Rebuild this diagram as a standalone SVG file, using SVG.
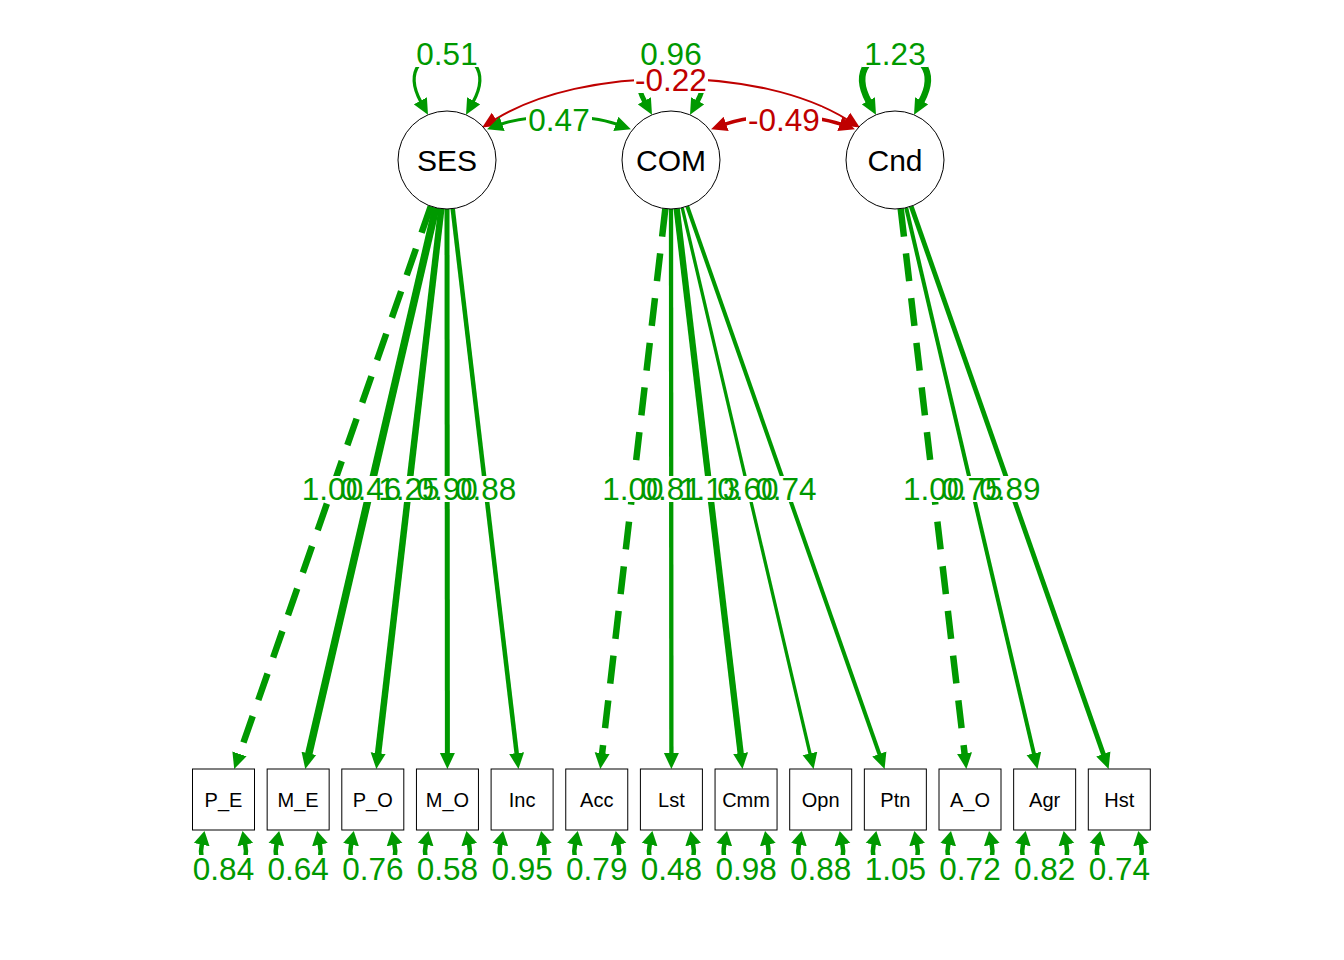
<svg xmlns="http://www.w3.org/2000/svg" width="1344" height="960" viewBox="0 0 1344 960">
<style>
.g{fill:none;stroke:#009900}
.r{fill:none;stroke:#BF0000}
.d{stroke-dasharray:28 17}
.bg{fill:#ffffff}
.lt{font-family:"Liberation Sans",Arial,sans-serif;font-size:31.5px;text-anchor:middle}
.lg{fill:#009900}
.lr{fill:#BF0000}
.lat circle{fill:#ffffff;stroke:#000000;stroke-width:1}
.man rect{fill:#ffffff;stroke:#000000;stroke-width:1}
.nt{font-family:"Liberation Sans",Arial,sans-serif;font-size:30px;text-anchor:middle;fill:#000000}
.bt{font-family:"Liberation Sans",Arial,sans-serif;font-size:20px;text-anchor:middle;fill:#000000}
.res{stroke-width:4.5;marker-start:url(#ms);marker-end:url(#ms)}
</style>
<defs>
<marker id="mg" viewBox="-1 -8 16 16" refX="0" refY="0" markerWidth="16" markerHeight="16" markerUnits="userSpaceOnUse" orient="auto-start-reverse"><path d="M-1,-7.5L15,0L-1,7.5z" fill="#009900"/></marker>
<marker id="mr" viewBox="-1 -8 16 16" refX="0" refY="0" markerWidth="16" markerHeight="16" markerUnits="userSpaceOnUse" orient="auto-start-reverse"><path d="M-1,-7.5L15,0L-1,7.5z" fill="#BF0000"/></marker>
<marker id="ms" viewBox="-1 -9 14 18" refX="0" refY="0" markerWidth="14" markerHeight="18" markerUnits="userSpaceOnUse" orient="auto-start-reverse"><path d="M-1,-8L13,0L-1,8z" fill="#009900"/></marker>
</defs>
<rect x="0" y="0" width="1344" height="960" fill="#ffffff"/>
<g id="connectors">
<path class="g d" stroke-width="6.5" marker-end="url(#mg)" d="M430.8,206.3L239.15,754.84"/>
<path class="g" stroke-width="7.5" marker-end="url(#mg)" d="M435.9,207.7L308.65,754.39"/>
<path class="g" stroke-width="6.5" marker-end="url(#mg)" d="M441.3,208.7L378.03,754.1"/>
<path class="g" stroke-width="5" marker-end="url(#mg)" d="M447,209L447.4,754"/>
<path class="g" stroke-width="4.5" marker-end="url(#mg)" d="M452.7,208.7L516.75,754.1"/>
<path class="g d" stroke-width="6.5" marker-end="url(#mg)" d="M665.35,208.7L602.03,754.1"/>
<path class="g" stroke-width="4.3" marker-end="url(#mg)" d="M671,209L671.4,754"/>
<path class="g" stroke-width="6.3" marker-end="url(#mg)" d="M676.7,208.7L740.75,754.1"/>
<path class="g" stroke-width="3.3" marker-end="url(#mg)" d="M682.2,207.7L810.18,754.39"/>
<path class="g" stroke-width="4" marker-end="url(#mg)" d="M687.2,206.2L879.64,754.85"/>
<path class="g d" stroke-width="6.5" marker-end="url(#mg)" d="M900.7,208.7L964.65,754.1"/>
<path class="g" stroke-width="4" marker-end="url(#mg)" d="M906.2,207.7L1034.08,754.39"/>
<path class="g" stroke-width="4.8" marker-end="url(#mg)" d="M911.2,206.2L1103.64,754.85"/>
<path class="g" stroke-width="3.2" marker-start="url(#mg)" marker-end="url(#mg)" d="M420.8,101.7C385,36 509,36 473.2,101.7"/>
<path class="g" stroke-width="5" marker-start="url(#mg)" marker-end="url(#mg)" d="M644.8,101.7C609,36 733,36 697.2,101.7"/>
<path class="g" stroke-width="6.5" marker-start="url(#mg)" marker-end="url(#mg)" d="M868.8,101.7C833,36 957,36 921.2,101.7"/>
<path class="r" stroke-width="2" marker-start="url(#mr)" marker-end="url(#mr)" d="M494.9,119.6C582.5,65 759.5,65 847.1,119.6"/>
<path class="g" stroke-width="3" marker-start="url(#mg)" marker-end="url(#mg)" d="M501.2,124.2C530,113.8 588,113.8 616.8,124.2"/>
<path class="r" stroke-width="3.5" marker-start="url(#mr)" marker-end="url(#mr)" d="M725.2,124.2C754,113.8 812,113.8 840.8,124.2"/>
<path class="g res" d="M201.9,843.7C193.5,885 253.5,885 245.1,843.7"/>
<path class="g res" d="M276.55,843.7C268.15,885 328.15,885 319.75,843.7"/>
<path class="g res" d="M351.2,843.7C342.8,885 402.8,885 394.4,843.7"/>
<path class="g res" d="M425.85,843.7C417.45,885 477.45,885 469.05,843.7"/>
<path class="g res" d="M500.5,843.7C492.1,885 552.1,885 543.7,843.7"/>
<path class="g res" d="M575.15,843.7C566.75,885 626.75,885 618.35,843.7"/>
<path class="g res" d="M649.8,843.7C641.4,885 701.4,885 693,843.7"/>
<path class="g res" d="M724.45,843.7C716.05,885 776.05,885 767.65,843.7"/>
<path class="g res" d="M799.1,843.7C790.7,885 850.7,885 842.3,843.7"/>
<path class="g res" d="M873.75,843.7C865.35,885 925.35,885 916.95,843.7"/>
<path class="g res" d="M948.4,843.7C940,885 1000,885 991.6,843.7"/>
<path class="g res" d="M1023.05,843.7C1014.65,885 1074.65,885 1066.25,843.7"/>
<path class="g res" d="M1097.7,843.7C1089.3,885 1149.3,885 1140.9,843.7"/>
</g>
<g id="node-SES" class="lat"><circle cx="447" cy="160" r="49"/><text class="nt" x="447" y="170.7">SES</text></g>
<g id="node-COM" class="lat"><circle cx="671" cy="160" r="49"/><text class="nt" x="671" y="170.7">COM</text></g>
<g id="node-Cnd" class="lat"><circle cx="895" cy="160" r="49"/><text class="nt" x="895" y="170.7">Cnd</text></g>
<g id="node-P_E" class="man"><rect x="192.5" y="769" width="62" height="61"/><text class="bt" x="223.5" y="806.7">P_E</text></g>
<g id="node-M_E" class="man"><rect x="267.15" y="769" width="62" height="61"/><text class="bt" x="298.15" y="806.7">M_E</text></g>
<g id="node-P_O" class="man"><rect x="341.8" y="769" width="62" height="61"/><text class="bt" x="372.8" y="806.7">P_O</text></g>
<g id="node-M_O" class="man"><rect x="416.45" y="769" width="62" height="61"/><text class="bt" x="447.45" y="806.7">M_O</text></g>
<g id="node-Inc" class="man"><rect x="491.1" y="769" width="62" height="61"/><text class="bt" x="522.1" y="806.7">Inc</text></g>
<g id="node-Acc" class="man"><rect x="565.75" y="769" width="62" height="61"/><text class="bt" x="596.75" y="806.7">Acc</text></g>
<g id="node-Lst" class="man"><rect x="640.4" y="769" width="62" height="61"/><text class="bt" x="671.4" y="806.7">Lst</text></g>
<g id="node-Cmm" class="man"><rect x="715.05" y="769" width="62" height="61"/><text class="bt" x="746.05" y="806.7">Cmm</text></g>
<g id="node-Opn" class="man"><rect x="789.7" y="769" width="62" height="61"/><text class="bt" x="820.7" y="806.7">Opn</text></g>
<g id="node-Ptn" class="man"><rect x="864.35" y="769" width="62" height="61"/><text class="bt" x="895.35" y="806.7">Ptn</text></g>
<g id="node-A_O" class="man"><rect x="939" y="769" width="62" height="61"/><text class="bt" x="970" y="806.7">A_O</text></g>
<g id="node-Agr" class="man"><rect x="1013.65" y="769" width="62" height="61"/><text class="bt" x="1044.65" y="806.7">Agr</text></g>
<g id="node-Hst" class="man"><rect x="1088.3" y="769" width="62" height="61"/><text class="bt" x="1119.3" y="806.7">Hst</text></g>
<g id="edge-labels">
<g class="bg">
<rect x="414" y="41" width="66" height="26"/>
<rect x="638" y="41" width="66" height="26"/>
<rect x="862" y="41" width="66" height="26"/>
<rect x="634" y="67" width="74" height="26"/>
<rect x="526" y="107" width="66" height="26"/>
<rect x="746" y="107" width="76" height="26"/>
<rect x="301" y="476" width="63" height="26"/>
<rect x="339.1" y="476" width="63" height="26"/>
<rect x="377.3" y="476" width="63" height="26"/>
<rect x="415.7" y="476" width="63" height="26"/>
<rect x="454.1" y="476" width="63" height="26"/>
<rect x="601.3" y="476" width="63" height="26"/>
<rect x="639.7" y="476" width="63" height="26"/>
<rect x="678.1" y="476" width="63" height="26"/>
<rect x="716.4" y="476" width="63" height="26"/>
<rect x="754.4" y="476" width="63" height="26"/>
<rect x="902.05" y="476" width="63" height="26"/>
<rect x="940.35" y="476" width="63" height="26"/>
<rect x="978.4" y="476" width="63" height="26"/>
<rect x="192" y="855" width="63" height="27"/>
<rect x="266.65" y="855" width="63" height="27"/>
<rect x="341.3" y="855" width="63" height="27"/>
<rect x="415.95" y="855" width="63" height="27"/>
<rect x="490.6" y="855" width="63" height="27"/>
<rect x="565.25" y="855" width="63" height="27"/>
<rect x="639.9" y="855" width="63" height="27"/>
<rect x="714.55" y="855" width="63" height="27"/>
<rect x="789.2" y="855" width="63" height="27"/>
<rect x="863.85" y="855" width="63" height="27"/>
<rect x="938.5" y="855" width="63" height="27"/>
<rect x="1013.15" y="855" width="63" height="27"/>
<rect x="1087.8" y="855" width="63" height="27"/>
</g>
<text class="lt lg" x="447" y="64.5">0.51</text>
<text class="lt lg" x="671" y="64.5">0.96</text>
<text class="lt lg" x="895" y="64.5">1.23</text>
<text class="lt lr" x="671" y="90.5">-0.22</text>
<text class="lt lg" x="559" y="130.5">0.47</text>
<text class="lt lr" x="784" y="130.5">-0.49</text>
<text class="lt lg" x="332.5" y="500.3">1.00</text>
<text class="lt lg" x="370.6" y="500.3">0.46</text>
<text class="lt lg" x="408.8" y="500.3">1.25</text>
<text class="lt lg" x="447.2" y="500.3">0.90</text>
<text class="lt lg" x="485.6" y="500.3">0.88</text>
<text class="lt lg" x="632.8" y="500.3">1.00</text>
<text class="lt lg" x="671.2" y="500.3">0.81</text>
<text class="lt lg" x="709.6" y="500.3">1.13</text>
<text class="lt lg" x="747.9" y="500.3">0.60</text>
<text class="lt lg" x="785.9" y="500.3">0.74</text>
<text class="lt lg" x="933.55" y="500.3">1.00</text>
<text class="lt lg" x="971.85" y="500.3">0.75</text>
<text class="lt lg" x="1009.9" y="500.3">0.89</text>
<text class="lt lg" x="223.5" y="879.5">0.84</text>
<text class="lt lg" x="298.15" y="879.5">0.64</text>
<text class="lt lg" x="372.8" y="879.5">0.76</text>
<text class="lt lg" x="447.45" y="879.5">0.58</text>
<text class="lt lg" x="522.1" y="879.5">0.95</text>
<text class="lt lg" x="596.75" y="879.5">0.79</text>
<text class="lt lg" x="671.4" y="879.5">0.48</text>
<text class="lt lg" x="746.05" y="879.5">0.98</text>
<text class="lt lg" x="820.7" y="879.5">0.88</text>
<text class="lt lg" x="895.35" y="879.5">1.05</text>
<text class="lt lg" x="970" y="879.5">0.72</text>
<text class="lt lg" x="1044.65" y="879.5">0.82</text>
<text class="lt lg" x="1119.3" y="879.5">0.74</text>
</g>
</svg>
